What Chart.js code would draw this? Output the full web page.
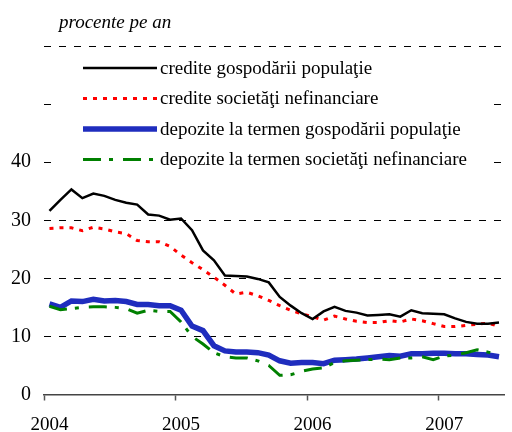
<!DOCTYPE html>
<html>
<head>
<meta charset="utf-8">
<script src="https://cdn.jsdelivr.net/npm/chart.js@4/dist/chart.umd.min.js"></script>
<style>
  html, body { margin: 0; padding: 0; background: #fff; }
  #wrap { width: 512px; height: 432px; }
</style>
</head>
<body>
<div id="wrap"><canvas id="myChart" width="512" height="432"></canvas></div>
<script>
// monthly categories, Jan 2004 - Jun 2007
const months = []
for (let y = 2004; y <= 2007; y++) {
  for (let m = 1; m <= 12; m++) months.push(y + '-' + String(m).padStart(2, '0'))
}
months.length = 42

const yTicks = [0, 10, 20, 30, 40]

const crediteGospodarii = [31.6, 33.5, 35.3, 33.8, 34.6, 34.2, 33.5, 33.0, 32.7, 31.0,
  30.8, 30.1, 30.3, 28.3, 24.8, 23.1, 20.5, 20.4, 20.3, 19.9,
  19.3, 16.8, 15.3, 14.0, 13.0, 14.3, 15.1, 14.4, 14.1, 13.6,
  13.7, 13.8, 13.4, 14.5, 14.0, 13.9, 13.8, 13.1, 12.5, 12.2,
  12.2, 12.4]
const crediteSocietati = [28.6, 28.7, 28.7, 28.2, 28.8, 28.5, 28.0, 27.7, 26.5, 26.3,
  26.3, 25.5, 24.0, 22.7, 21.5, 20.2, 18.8, 17.3, 17.6, 17.0,
  16.2, 15.3, 14.5, 13.9, 13.4, 12.8, 13.5, 13.0, 12.6, 12.4,
  12.4, 12.7, 12.5, 13.0, 12.7, 12.2, 11.7, 11.7, 11.9, 12.1,
  12.3, 11.7]
const depoziteGospodarii = [15.6, 15.0, 16.1, 16.0, 16.4, 16.1, 16.2, 16.0, 15.5, 15.5,
  15.3, 15.3, 14.5, 11.8, 11.0, 8.4, 7.5, 7.3, 7.3, 7.2,
  6.8, 5.8, 5.4, 5.5, 5.5, 5.3, 5.9, 6.0, 6.1, 6.3,
  6.5, 6.7, 6.6, 7.0, 7.0, 7.1, 7.1, 7.0, 7.0, 6.9,
  6.8, 6.5]
const depoziteSocietati = [15.2, 14.6, 14.8, 15.0, 15.1, 15.1, 15.0, 14.8, 14.0, 14.5,
  14.3, 14.3, 12.5, 10.0, 8.7, 7.2, 6.5, 6.3, 6.3, 5.8,
  5.0, 3.3, 3.4, 4.0, 4.4, 4.6, 5.5, 5.8, 5.9, 6.0,
  6.1, 6.0, 6.3, 6.3, 6.5, 6.0, 6.6, 6.8, 7.2, 7.7,
  7.3, 6.8]

const serif = "'Liberation Serif', 'Times New Roman', serif"

// legend drawn inside the plot, on a white box over the grid
const boxLegend = {
  id: 'boxLegend',
  beforeDatasetsDraw(chart) {
    const ctx = chart.ctx
    ctx.save()
    ctx.fillStyle = '#fff'
    ctx.fillRect(53, 55, 437, 120)
    chart.data.datasets.forEach((ds, i) => {
      const y = 68 + i * 30.5
      ctx.beginPath()
      ctx.lineWidth = ds.borderWidth
      ctx.strokeStyle = ds.borderColor
      ctx.setLineDash(ds.borderDash || [])
      ctx.moveTo(83, y)
      ctx.lineTo(157, y)
      ctx.stroke()
      ctx.setLineDash([])
      ctx.fillStyle = '#000'
      ctx.font = '19px ' + serif
      ctx.textBaseline = 'middle'
      ctx.fillText(ds.label, 160, y + 1)
    })
    ctx.restore()
  },
  afterDraw(chart) {
    const ctx = chart.ctx
    ctx.save()
    ctx.fillStyle = '#000'
    ctx.font = 'italic 19px ' + serif
    ctx.textBaseline = 'alphabetic'
    ctx.fillText('procente pe an', 59, 28)
    ctx.restore()
  }
}

const ctx = document.getElementById('myChart').getContext('2d')
const chart = new Chart(ctx, {
  type: 'line',
  data: {
    labels: months,
    datasets: [{
      label: 'credite gospodării populaţie',
      data: crediteGospodarii,
      borderColor: '#000',
      borderWidth: 2.5,
      order: 1
    }, {
      label: 'credite societăţi nefinanciare',
      data: crediteSocietati,
      borderColor: '#ff0000',
      borderWidth: 3,
      borderDash: [4, 6],
      order: 2
    }, {
      label: 'depozite la termen gospodării populaţie',
      data: depoziteGospodarii,
      borderColor: 'rgb(31, 45, 190)',
      borderWidth: 5.5,
      order: 4
    }, {
      label: 'depozite la termen societăţi nefinanciare',
      data: depoziteSocietati,
      borderColor: '#008000',
      borderWidth: 3,
      borderDash: [18, 8, 4, 10],
      order: 3
    }]
  },
  options: {
    responsive: false,
    animation: false,
    layout: { padding: { top: 46, right: 0, left: 0, bottom: 0 } },
    elements: {
      point: { radius: 0 },
      line: { tension: 0, borderCapStyle: 'butt' }
    },
    plugins: {
      legend: { display: false },
      tooltip: { enabled: false }
    },
    scales: {
      x: {
        type: 'category',
        offset: true,
        afterFit: s => { s.height = 37.5 },
        grid: {
          offset: true,
          drawOnChartArea: false,
          drawTicks: true,
          tickLength: 6,
          tickWidth: 1.5,
          tickColor: c => (months[c.index] && months[c.index].endsWith('-01')) ? '#555' : 'rgba(0,0,0,0)'
        },
        border: { display: true, color: '#444', width: 1.5 },
        ticks: {
          autoSkip: false,
          maxRotation: 0,
          padding: 13,
          color: '#000',
          font: { family: serif, size: 19 },
          callback: function (v, i) {
            const m = months[i]
            return m.endsWith('-01') ? m.slice(0, 4) : ''
          }
        }
      },
      y: {
        min: 0,
        max: 60,
        afterFit: s => { s.width = 44 },
        afterBuildTicks: s => {
          s.ticks = [0, 10, 20, 30, 40, 50, 60].map(v => ({ value: v }))
        },
        grid: {
          drawTicks: false,
          lineWidth: 1,
          color: c => c.tick && c.tick.value === 0 ? 'rgba(0,0,0,0)' : '#000'
        },
        border: { display: false, dash: [7, 8] },
        ticks: {
          padding: 13,
          color: '#000',
          font: { family: serif, size: 20 },
          callback: v => yTicks.includes(v) ? v : ''
        }
      }
    }
  },
  plugins: [boxLegend]
})
</script>
</body>
</html>
